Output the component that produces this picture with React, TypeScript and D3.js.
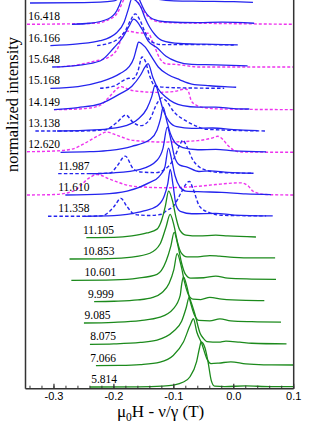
import React from 'react'
import * as d3 from 'd3'

type Pt = [number, number]

// field labels, bottom trace first (top trace label is cut off)
const fields = ['5.814', '7.066', '8.075', '9.085', '9.999', '10.601', '10.853', '11.105', '11.358', '11.610',
  '11.987', '12.620', '13.138', '14.149', '15.168', '15.648', '16.166', '16.418', '']
const labelAt = [-0.238, -0.2395, -0.2395, -0.249, -0.2433, -0.249, -0.2517, -0.2517, -0.2928, -0.2928,
  -0.2928, -0.3428, -0.3428, -0.3428, -0.3428, -0.3428, -0.3428, -0.3428, -0.3428]
const greenRows = 8

// measured traces: [μ0H - ν/γ (T), intensity]
const solid: Pt[][] = [
  [[-0.24, 0], [-0.16, 0.01], [-0.12, 0.04], [-0.101, 0.09], [-0.085, 0.22], [-0.073, 0.48], [-0.062, 1.19], [-0.057, 1.85], [-0.0545, 2.11], [-0.048, 1.83], [-0.043, 1.19], [-0.0375, 0.3], [-0.032, 0.04], [-0.015, 0.02], [0.02, 0.05], [0.06, 0.02], [0.1, 0.02]],
  [[-0.23, 0], [-0.19, 0.01], [-0.156, 0.05], [-0.123, 0.17], [-0.101, 0.48], [-0.084, 1.11], [-0.073, 1.88], [-0.0673, 2.2], [-0.0617, 1.58], [-0.0533, 1.03], [-0.045, 0.33], [-0.038, 0.1], [-0.025, 0.12], [-0.005, 0.18], [0.02, 0.08], [0.05, 0.04], [0.1, 0.03]],
  [[-0.24, 0], [-0.2, 0.02], [-0.156, 0.09], [-0.128, 0.2], [-0.101, 0.6], [-0.087, 1.08], [-0.0795, 1.7], [-0.0745, 2.2], [-0.0715, 2.0], [-0.0645, 1.38], [-0.0562, 0.52], [-0.0507, 0.28], [-0.045, 0.13], [-0.025, 0.1], [-0.013, 0.15], [0.01, 0.1], [0.03, 0.05], [0.088, 0.02]],
  [[-0.25, 0], [-0.2, 0.03], [-0.156, 0.11], [-0.123, 0.27], [-0.101, 0.66], [-0.0895, 1.28], [-0.087, 1.8], [-0.084, 2.16], [-0.079, 1.8], [-0.073, 1.05], [-0.066, 0.4], [-0.058, 0.12], [-0.04, 0.1], [-0.023, 0.19], [-0.005, 0.1], [0.03, 0.06], [0.0788, 0.04]],
  [[-0.233, 0], [-0.2, 0.02], [-0.16, 0.08], [-0.135, 0.2], [-0.12, 0.42], [-0.108, 0.85], [-0.1, 1.5], [-0.0945, 2.25], [-0.088, 1.7], [-0.082, 0.9], [-0.076, 0.35], [-0.068, 0.12], [-0.055, 0.1], [-0.04, 0.2], [-0.02, 0.12], [0.02, 0.06], [0.051, 0.05]],
  [[-0.271, 0], [-0.2, 0.02], [-0.16, 0.1], [-0.128, 0.28], [-0.113, 0.89], [-0.105, 1.6], [-0.0995, 2.25], [-0.093, 1.6], [-0.087, 0.8], [-0.081, 0.3], [-0.072, 0.1], [-0.05, 0.12], [-0.03, 0.2], [-0.01, 0.1], [0.03, 0.06], [0.0705, 0.04]],
  [[-0.274, 0], [-0.21, 0.02], [-0.17, 0.09], [-0.14, 0.27], [-0.123, 0.7], [-0.113, 1.5], [-0.1062, 2.09], [-0.1, 1.6], [-0.094, 0.8], [-0.088, 0.3], [-0.078, 0.1], [-0.06, 0.1], [-0.04, 0.16], [-0.024, 0.13], [0.0, 0.08], [0.03, 0.05], [0.069, 0.05]],
  [[-0.246, 0], [-0.2, 0.01], [-0.17, 0.08], [-0.145, 0.22], [-0.128, 0.4], [-0.12, 0.85], [-0.114, 1.5], [-0.1087, 2.18], [-0.102, 1.7], [-0.096, 0.9], [-0.09, 0.35], [-0.08, 0.12], [-0.058, 0.08], [-0.03, 0.12], [-0.01, 0.08], [0.037, 0.03]],
  [[-0.25, 0], [-0.2, 0.03], [-0.178, 0.09], [-0.15, 0.25], [-0.128, 0.48], [-0.116, 0.95], [-0.11, 1.55], [-0.106, 2.2], [-0.101, 1.4], [-0.096, 0.5], [-0.088, 0.22], [-0.07, 0.12], [-0.03, 0.14], [0.0, 0.06], [0.065, 0.02]],
  [[-0.281, 0], [-0.22, 0.04], [-0.178, 0.18], [-0.14, 0.59], [-0.125, 0.85], [-0.115, 1.3], [-0.109, 2.2], [-0.104, 1.7], [-0.098, 0.9], [-0.09, 0.38], [-0.08, 0.18], [-0.05, 0.15], [-0.02, 0.12], [0.02, 0.05], [0.062, 0.02]],
  [[-0.24, 0], [-0.2, 0.04], [-0.156, 0.2], [-0.128, 0.63], [-0.118, 1.2], [-0.111, 2.18], [-0.105, 1.6], [-0.099, 0.8], [-0.09, 0.4], [-0.079, 0.32], [-0.058, 0.1], [-0.04, 0.13], [-0.01, 0.06], [0.033, 0.02]],
  [[-0.289, 0], [-0.24, 0.03], [-0.206, 0.09], [-0.17, 0.28], [-0.14, 0.6], [-0.128, 1.05], [-0.122, 1.6], [-0.118, 2.12], [-0.112, 1.5], [-0.106, 0.9], [-0.098, 0.45], [-0.085, 0.22], [-0.06, 0.12], [-0.03, 0.14], [0.0, 0.07], [0.054, 0.02]],
  [[-0.295, 0], [-0.25, 0.03], [-0.21, 0.1], [-0.18, 0.25], [-0.16, 0.55], [-0.145, 1.05], [-0.137, 1.6], [-0.131, 2.16], [-0.125, 1.7], [-0.118, 1.0], [-0.108, 0.45], [-0.095, 0.2], [-0.07, 0.12], [-0.035, 0.14], [0.0, 0.06], [0.04, 0.02]],
  [[-0.3, 0], [-0.26, 0.1], [-0.223, 0.27], [-0.19, 0.74], [-0.17, 1.1], [-0.156, 1.6], [-0.148, 2.0], [-0.143, 2.16], [-0.135, 1.51], [-0.126, 0.97], [-0.113, 0.58], [-0.1, 0.33], [-0.085, 0.19], [-0.06, 0.12], [-0.03, 0.12], [0.0, 0.05], [0.026, 0.03]],
  [[-0.306, 0], [-0.26, 0.08], [-0.223, 0.3], [-0.19, 0.69], [-0.175, 1.0], [-0.167, 1.4], [-0.162, 1.9], [-0.159, 2.17], [-0.148, 1.94], [-0.137, 1.47], [-0.126, 1.0], [-0.11, 0.65], [-0.09, 0.4], [-0.07, 0.2], [-0.04, 0.12], [-0.01, 0.07], [0.004, 0.05]],
  [[-0.303, 0], [-0.26, 0.08], [-0.223, 0.28], [-0.2, 0.9], [-0.185, 1.4], [-0.175, 1.9], [-0.167, 2.24], [-0.153, 1.77], [-0.143, 1.22], [-0.128, 0.9], [-0.113, 0.5], [-0.095, 0.25], [-0.07, 0.12], [-0.03, 0.1], [0.023, 0.05]],
  [[-0.306, 0], [-0.26, 0.08], [-0.223, 0.23], [-0.195, 0.62], [-0.183, 1.1], [-0.176, 1.7], [-0.17, 2.2], [-0.163, 2.1], [-0.155, 1.8], [-0.148, 1.3], [-0.14, 0.85], [-0.131, 0.5], [-0.12, 0.25], [-0.09, 0.1], [-0.05, 0.07], [0.0067, 0.04]],
  [[-0.27, 0], [-0.24, 0.05], [-0.21, 0.25], [-0.195, 0.65], [-0.187, 1.2], [-0.18, 2.0], [-0.176, 2.2], [-0.168, 1.9], [-0.158, 1.2], [-0.148, 0.6], [-0.135, 0.25], [-0.115, 0.12], [-0.06, 0.08], [-0.02, 0.1], [0.034, 0.05]],
  [[-0.34, 0], [-0.25, 0.02], [-0.2, 0.1], [-0.19, 0.3], [-0.183, 0.9], [-0.178, 1.6], [-0.172, 2.2], [-0.165, 1.9], [-0.155, 1.1], [-0.145, 0.5], [-0.13, 0.2], [-0.1, 0.1], [-0.05, 0.08], [0.0, 0.06], [0.032, 0.03]],
]

// blue dashed traces, by row
const blueDashRows = [8, 10, 12, 14, 16]
const blueDash: Pt[][] = [
  [[-0.31, 0], [-0.25, 0.0], [-0.222, 0.02], [-0.2145, 0.08], [-0.2, 0.45], [-0.1883, 0.84], [-0.178, 0.45], [-0.1645, 0.08], [-0.14, 0.04], [-0.12, 0.1], [-0.113, 0.25], [-0.1, 0.5], [-0.088, 1.1], [-0.08, 1.5], [-0.074, 1.64], [-0.068, 1.3], [-0.0573, 0.48], [-0.0407, 0.17], [-0.02, 0.05], [0.054, 0.02]],
  [[-0.293, 0], [-0.24, 0], [-0.206, 0.03], [-0.195, 0.35], [-0.181, 0.82], [-0.168, 0.24], [-0.156, 0.08], [-0.13, 0.05], [-0.115, 0.2], [-0.1, 0.7], [-0.09, 1.35], [-0.085, 1.57], [-0.078, 1.25], [-0.068, 0.63], [-0.057, 0.3], [-0.046, 0.16], [-0.02, 0.05], [0.03, 0.02]],
  [[-0.331, 0], [-0.26, 0], [-0.215, 0.05], [-0.195, 0.4], [-0.18, 0.75], [-0.168, 0.4], [-0.155, 0.25], [-0.14, 0.55], [-0.128, 1.3], [-0.12, 1.55], [-0.1125, 1.4], [-0.1, 0.9], [-0.0795, 0.47], [-0.06, 0.2], [-0.046, 0.08], [0.054, 0.0]],
  [[-0.223, 0], [-0.2, 0.1], [-0.185, 0.35], [-0.175, 0.47], [-0.168, 0.45], [-0.16, 0.8], [-0.153, 1.47], [-0.148, 1.3], [-0.14, 0.55], [-0.131, 0.1], [-0.1, 0.03], [-0.016, 0.0]],
  [[-0.228, 0], [-0.198, 0.23], [-0.188, 0.45], [-0.181, 0.7], [-0.172, 1.2], [-0.1645, 1.49], [-0.156, 1.17], [-0.148, 0.62], [-0.138, 0.2], [-0.12, 0.05], [-0.05, 0.05], [0.0, 0.03]],
]

// magenta dashed traces, by row
const magentaRows = [9, 11, 13, 15, 17]
const magenta: Pt[][] = [
  [[-0.345, 0], [-0.3, 0.02], [-0.268, 0.18], [-0.24, 0.82], [-0.228, 0.96], [-0.206, 0.73], [-0.168, 0.41], [-0.113, 0.34], [-0.058, 0.41], [-0.03, 0.49], [0.012, 0.57], [0.025, 0.4], [0.032, 0.18], [0.054, 0.02], [0.1, 0.0]],
  [[-0.345, 0.03], [-0.3, 0.06], [-0.27, 0.15], [-0.25, 0.4], [-0.228, 0.75], [-0.212, 0.95], [-0.195, 0.8], [-0.168, 0.56], [-0.113, 0.48], [-0.06, 0.55], [-0.035, 0.68], [-0.027, 0.75], [-0.018, 0.6], [-0.01, 0.33], [0.009, 0.02], [0.1, 0.0]],
  [[-0.3, 0], [-0.26, 0.03], [-0.235, 0.1], [-0.222, 0.22], [-0.207, 0.62], [-0.195, 0.98], [-0.189, 1.08], [-0.178, 0.98], [-0.168, 0.89], [-0.128, 0.81], [-0.1, 0.85], [-0.08, 0.97], [-0.075, 0.8], [-0.071, 0.42], [-0.062, 0.2], [-0.052, 0.1], [-0.02, 0.03], [0.1, 0.0]],
  [[-0.295, 0], [-0.26, 0.1], [-0.231, 0.28], [-0.21, 0.44], [-0.193, 0.91], [-0.186, 1.5], [-0.178, 1.68], [-0.159, 1.6], [-0.143, 1.58], [-0.134, 1.08], [-0.123, 0.38], [-0.112, 0.14], [-0.096, 0.12], [-0.058, 0.0], [0.1, 0.0]],
  [[-0.345, 0], [-0.28, 0.02], [-0.231, 0.05], [-0.21, 0.2], [-0.195, 0.5], [-0.184, 1.13], [-0.176, 1.6], [-0.168, 1.5], [-0.159, 1.0], [-0.148, 0.52], [-0.135, 0.2], [-0.12, 0.1], [-0.08, 0.06], [-0.03, 0.04], [0.1, 0.0]],
]

const xTickValues = [-0.3, -0.2, -0.1, 0.0, 0.1]
const xTickLabels = ['-0.3', '-0.2', '-0.1', '0.0', '0.1']

const W = 332
const H = 430
const margin = { top: 0, right: 38.3, bottom: 41.3, left: 25.5 }
const innerW = W - margin.left - margin.right
const innerH = H - margin.top - margin.bottom

const GREEN = '#1c8a1c'
const BLUE = '#2424ee'
const MAGENTA = '#ee33ee'
const SERIF = "'Liberation Serif', 'Times New Roman', serif"

export default function App() {
  const x = d3.scaleLinear().domain([-0.3475, 0.1]).range([0, innerW])
  const y = d3.scaleLinear().domain([-0.08, 18.14]).range([innerH, 0])

  const lineFor = (row: number) =>
    d3.line<Pt>()
      .x((d) => x(d[0]))
      .y((d) => y(d[1] + row))
      .curve(d3.curveMonotoneX)

  const minor = x.ticks(24)

  return (
    <div style={{ width: W, height: H }}>
      <style>{'body{margin:0}'}</style>
      <svg width={W} height={H} style={{ display: 'block', background: '#fff' }}>
        <defs>
          <clipPath id="plot-clip">
            <rect x={0} y={0} width={innerW} height={innerH} />
          </clipPath>
        </defs>
        <g transform={`translate(${margin.left},${margin.top})`}>
          <g clipPath="url(#plot-clip)" fill="none" strokeLinejoin="round">
            {magenta.map((pts, i) => (
              <path key={'m' + i} d={lineFor(magentaRows[i])(pts) || ''}
                stroke={MAGENTA} strokeWidth={1.4} strokeDasharray="3,2" />
            ))}
            {blueDash.map((pts, i) => (
              <path key={'b' + i} d={lineFor(blueDashRows[i])(pts) || ''}
                stroke={BLUE} strokeWidth={1.4} strokeDasharray="3.5,2.2" />
            ))}
            {solid.map((pts, i) => (
              <path key={'s' + i} d={lineFor(i)(pts) || ''}
                stroke={i < greenRows ? GREEN : BLUE} strokeWidth={1.3} />
            ))}
          </g>

          {fields.map((f, i) => f && (
            <text key={'l' + i} x={x(labelAt[i])} y={y(i) - 4}
              fontFamily={SERIF} fontSize={11.5} fill="#000">
              {f}
            </text>
          ))}

          {/* frame */}
          <line x1={0} x2={0} y1={0} y2={innerH} stroke="#333" strokeWidth={1.5} />
          <line x1={innerW} x2={innerW} y1={0} y2={innerH} stroke="#333" strokeWidth={1.5} />
          <line x1={0} x2={innerW} y1={innerH} y2={innerH} stroke="#333" strokeWidth={1.5} />

          {/* x ticks */}
          {minor.map((t) => (
            <line key={'mt' + t} x1={x(t)} x2={x(t)} y1={innerH} y2={innerH - 3} stroke="#333" strokeWidth={1} />
          ))}
          {xTickValues.map((t, i) => (
            <g key={'t' + t} transform={`translate(${x(t)},${innerH})`}>
              <line y1={0} y2={-5} stroke="#333" strokeWidth={1.2} />
              <text y={11} textAnchor="middle" fontFamily="'Liberation Sans', Arial, sans-serif"
                fontSize={11} fill="#000">
                {xTickLabels[i]}
              </text>
            </g>
          ))}

          {/* axis titles */}
          <text x={innerW / 2 + 1} y={innerH + 28} textAnchor="middle"
            fontFamily={SERIF} fontSize={17} fill="#000">
            μ<tspan dy={4} fontSize={11.5}>0</tspan><tspan dy={-4}>H - ν/γ (T)</tspan>
          </text>
          <text transform={`translate(${-7.5},${104.5}) rotate(-90)`} textAnchor="middle"
            fontFamily={SERIF} fontSize={16.5} fill="#000">
            normalized intensity
          </text>
        </g>
      </svg>
    </div>
  )
}
